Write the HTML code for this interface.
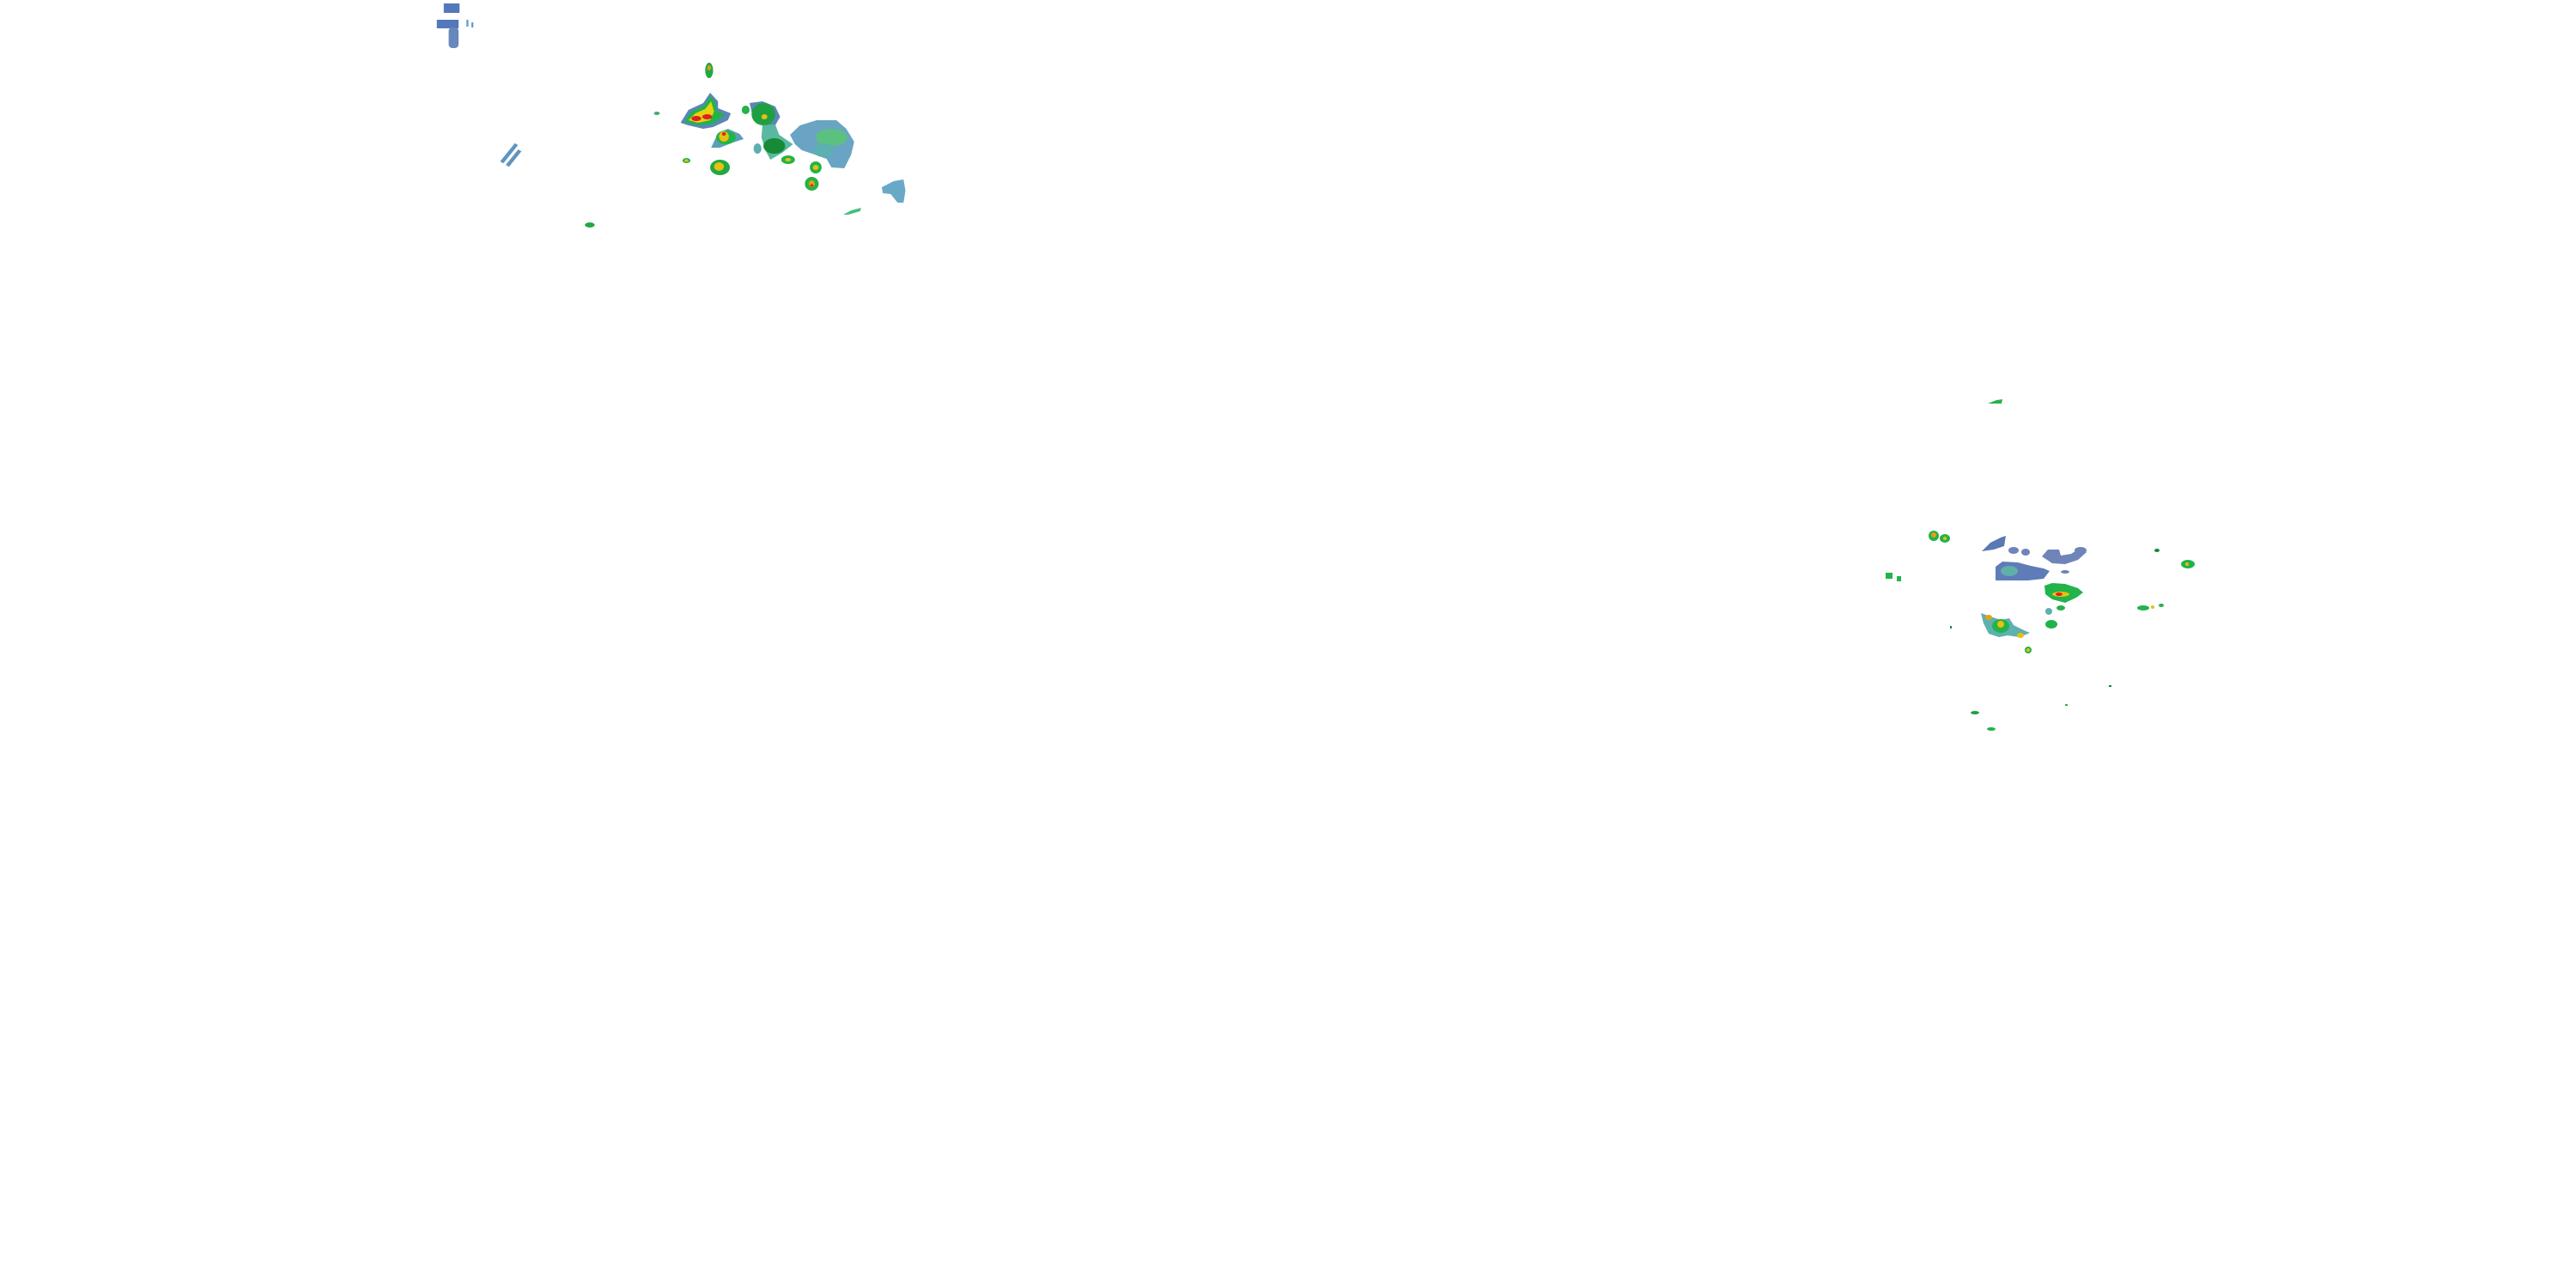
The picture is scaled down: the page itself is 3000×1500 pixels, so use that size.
<!DOCTYPE html>
<html><head><meta charset="utf-8"><style>html,body{margin:0;padding:0;background:#fff;width:3000px;height:1500px;overflow:hidden}</style></head>
<body>
<svg width="3000" height="1500" viewBox="0 0 3000 1500" xmlns="http://www.w3.org/2000/svg">
<g transform="matrix(1.149,0,0,1,-71.5,0)">
<rect x="512" y="4" width="16" height="11" fill="#5577bb"/>
<rect x="505" y="23" width="22" height="10" fill="#5577bb"/>
<rect x="517" y="32" width="10" height="24" rx="4" fill="#6688bb"/>
<rect x="535" y="23" width="2" height="8" fill="#5fa0c8"/>
<rect x="540" y="26" width="2" height="6" fill="#5fa0c8"/>
<g fill="#5f95c0" transform="rotate(-55 581 178)"><rect x="566" y="174" width="26" height="4"/><rect x="566" y="181" width="22" height="4"/></g>
<polygon points="752,143 760,128 775,120 782,108 790,118 790,126 803,132 800,140 785,148 775,150 760,146" fill="#5b86b8"/>
<polygon points="756,142 763,130 776,123 782,112 788,120 788,128 797,134 785,144 770,146" fill="#22b34a"/>
<polygon points="760,140 767,132 777,127 783,118 786,130 782,140 770,143" fill="#e8d010"/>
<ellipse cx="768" cy="138" rx="5" ry="3" fill="#e02020"/>
<ellipse cx="779" cy="136" rx="5" ry="3" fill="#e02020"/>
<ellipse cx="781" cy="82" rx="4" ry="9" fill="#22a845"/>
<ellipse cx="781" cy="79" rx="2" ry="3" fill="#e0a010"/>
<ellipse cx="728" cy="132" rx="3" ry="2" fill="#40b070"/>
<polygon points="783,172 790,155 800,150 812,156 816,162 805,166 792,172" fill="#5b9fb8"/>
<ellipse cx="798" cy="160" rx="10" ry="8" fill="#22b34a"/>
<ellipse cx="796" cy="159" rx="5" ry="6" fill="#e8c010"/>
<ellipse cx="796" cy="156" rx="2" ry="2" fill="#e02020"/>
<ellipse cx="758" cy="187" rx="4" ry="3" fill="#22b34a"/><ellipse cx="758" cy="187" rx="2" ry="1.5" fill="#e8c010"/>
<ellipse cx="792" cy="195" rx="10" ry="9" fill="#22a845"/><ellipse cx="791" cy="194" rx="5" ry="5" fill="#e8c010"/>
<polygon points="822,120 835,118 848,124 853,136 848,146 838,148 826,140" fill="#5b86b8"/>
<ellipse cx="836" cy="133" rx="12" ry="13" fill="#1ea040"/>
<ellipse cx="837" cy="136" rx="3" ry="3" fill="#e8c010"/>
<ellipse cx="818" cy="128" rx="4" ry="5" fill="#22b34a"/>
<polygon points="835,146 848,145 852,157 866,168 855,178 843,186 838,175 834,160" fill="#5bb8a0"/>
<ellipse cx="847" cy="170" rx="11" ry="9" fill="#168a35"/>
<ellipse cx="830" cy="173" rx="4" ry="6" fill="#5bb0b0"/>
<polygon points="863,157 873,146 890,140 910,140 920,150 928,165 925,180 918,196 905,195 900,185 888,180 875,175 868,168" fill="#6aa4c4"/>
<ellipse cx="905" cy="160" rx="16" ry="10" fill="#5cc080"/>
<ellipse cx="897" cy="175" rx="10" ry="8" fill="#5cb0b0"/>
<ellipse cx="861" cy="186" rx="7" ry="5" fill="#22b34a"/><ellipse cx="861" cy="186" rx="3" ry="2" fill="#e8c010"/>
<ellipse cx="889" cy="195" rx="6" ry="7" fill="#22b34a"/><ellipse cx="889" cy="195" rx="3" ry="3" fill="#e8c010"/>
<ellipse cx="885" cy="214" rx="7" ry="8" fill="#22b34a"/><ellipse cx="885" cy="214" rx="3" ry="4" fill="#e8a010"/><ellipse cx="885" cy="216" rx="1.5" ry="1.5" fill="#e02020"/>
<polygon points="956,218 968,211 978,209 980,222 978,236 972,236 965,226 957,225" fill="#6aa8c8"/>
<polygon points="917,250 925,245 935,242 934,246 922,250" fill="#40c080"/>
<ellipse cx="660" cy="262" rx="5" ry="3" fill="#22a845"/>
</g>
<g>
<polygon points="2315,470 2325,466 2332,465 2331,470" fill="#22b34a"/>
<ellipse cx="2252" cy="624" rx="6" ry="6" fill="#22b34a"/><ellipse cx="2252" cy="623" rx="3" ry="3" fill="#e8a010"/>
<ellipse cx="2265" cy="627" rx="6" ry="5" fill="#22b34a"/><ellipse cx="2265" cy="627" rx="2" ry="2" fill="#e8c010"/>
<polygon points="2308,642 2318,632 2330,626 2336,624 2334,636 2322,640" fill="#5a78b4"/>
<polygon points="2324,660 2332,654 2350,655 2365,659 2380,662 2387,665 2380,674 2362,676 2340,676 2324,676" fill="#5f7cb8"/>
<ellipse cx="2340" cy="665" rx="10" ry="6" fill="#5fb0a8"/>
<ellipse cx="2345" cy="641" rx="6" ry="4" fill="#6f84b8"/><ellipse cx="2359" cy="643" rx="5" ry="4" fill="#6f84b8"/>
<polygon points="2378,648 2385,640 2398,640 2400,647 2412,645 2420,640 2430,643 2420,652 2405,657 2390,656" fill="#6f84b8"/>
<ellipse cx="2423" cy="641" rx="7" ry="4" fill="#6f84b8"/>
<ellipse cx="2405" cy="666" rx="5" ry="2" fill="#6f84b8"/>
<polygon points="2381,682 2390,679 2405,680 2420,685 2426,690 2418,696 2405,702 2390,698 2382,692" fill="#22b34a"/>
<ellipse cx="2400" cy="692" rx="10" ry="3" fill="#e8c010"/><ellipse cx="2398" cy="692" rx="4" ry="2" fill="#e02020"/>
<ellipse cx="2400" cy="708" rx="5" ry="3" fill="#22b34a"/>
<ellipse cx="2386" cy="712" rx="4" ry="4" fill="#5fb0b0"/>
<ellipse cx="2389" cy="727" rx="7" ry="5" fill="#22b34a"/>
<rect x="2196" y="667" width="8" height="7" fill="#22b34a"/><rect x="2209" y="671" width="5" height="6" fill="#22b34a"/>
<polygon points="2307,714 2318,718 2330,722 2340,720 2345,728 2357,734 2364,737 2352,742 2338,740 2328,742 2316,738 2310,726" fill="#5fb0b0"/>
<ellipse cx="2330" cy="729" rx="10" ry="8" fill="#22b34a"/><ellipse cx="2330" cy="727" rx="4" ry="4" fill="#e8c010"/>
<ellipse cx="2316" cy="719" rx="4" ry="3" fill="#e8a010"/>
<ellipse cx="2353" cy="740" rx="4" ry="3" fill="#e8c010"/>
<ellipse cx="2362" cy="757" rx="4" ry="4" fill="#22b34a"/><ellipse cx="2362" cy="757" rx="2" ry="2" fill="#e8c010"/>
<ellipse cx="2496" cy="708" rx="7" ry="3" fill="#22b34a"/><ellipse cx="2507" cy="707" rx="2" ry="2" fill="#e8c010"/><ellipse cx="2517" cy="705" rx="3" ry="2" fill="#22b34a"/>
<ellipse cx="2548" cy="657" rx="8" ry="5" fill="#22b34a"/><ellipse cx="2547" cy="657" rx="2" ry="2" fill="#e8c010"/>
<ellipse cx="2512" cy="641" rx="3" ry="2" fill="#168a35"/>
<ellipse cx="2300" cy="830" rx="5" ry="2" fill="#1ea040"/>
<ellipse cx="2319" cy="849" rx="5" ry="2" fill="#22b34a"/>
<rect x="2271" y="729" width="2" height="3" fill="#168a35"/>
<rect x="2456" y="798" width="3" height="2" fill="#168a35"/>
<rect x="2405" y="820" width="3" height="2" fill="#22b34a"/>
</g>
</svg>
</body></html>
